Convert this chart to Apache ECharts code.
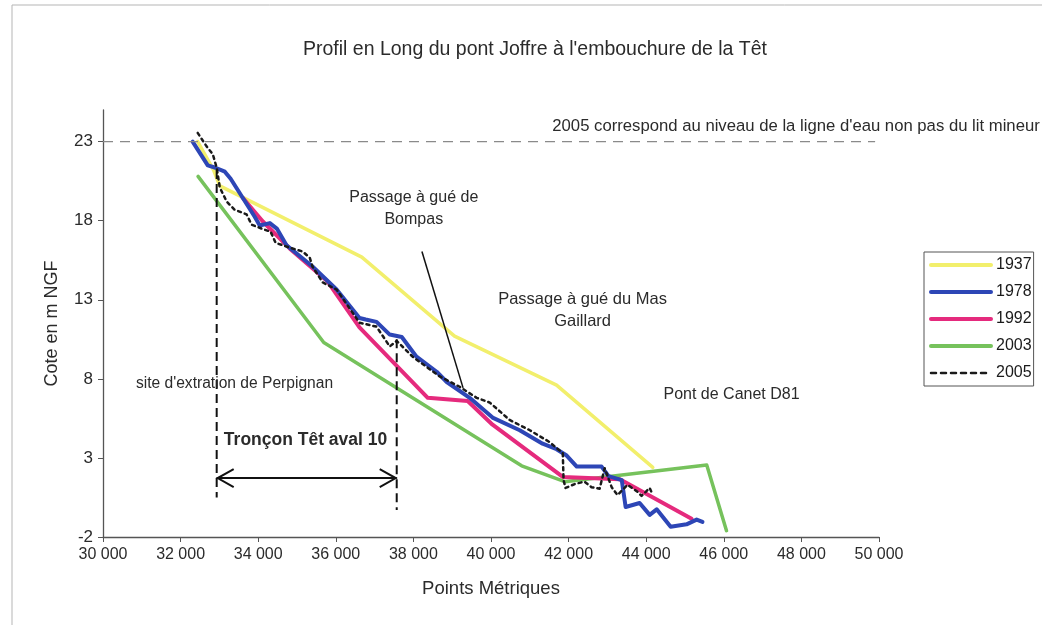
<!DOCTYPE html>
<html>
<head>
<meta charset="utf-8">
<script src="https://cdn.jsdelivr.net/npm/echarts@6/dist/echarts.min.js"></script>
<style>
  html, body { margin: 0; padding: 0; background: #ffffff; }
  #chart { width: 1042px; height: 625px; }
</style>
</head>
<body>
<div id="chart"></div>
<script>
// Axis ticks
const xTicks = [30000, 32000, 34000, 36000, 38000, 40000, 42000, 44000, 46000, 48000, 50000];
const yTicks = [-2, 3, 8, 13, 18, 23];

// Longitudinal profiles: points métriques (m) and cote (m NGF)
const pm1937 = [32440, 32850, 33010, 36670, 39060, 41690, 44170];
const cote1937 = [23.0, 21.2, 20.2, 15.7, 10.7, 7.6, 2.4];

const pm1978 = [32310, 32700, 32900, 33140, 33290, 33600, 33910, 34040, 34300, 34480, 34730, 35400, 36020,
  36610, 36770, 37050, 37390, 37700, 38080, 38600, 38860, 39450, 40040, 40740, 41330, 41690, 41950, 42210,
  42850, 43030, 43370, 43470, 43830, 44090, 44270, 44630, 45040, 45300, 45450];
const cote1978 = [23.0, 21.5, 21.35, 21.1, 20.65, 19.45, 18.25, 17.7, 17.85, 17.5, 16.45, 15.1, 13.65,
  11.85, 11.75, 11.6, 10.8, 10.65, 9.4, 8.45, 7.8, 6.8, 5.55, 4.75, 3.9, 3.55, 3.15, 2.45,
  2.45, 1.85, 1.6, -0.1, 0.15, -0.6, -0.25, -1.35, -1.2, -0.9, -1.05];

const pm1992 = [33600, 34120, 34810, 35790, 36610, 38370, 39400, 40040, 41850, 43320, 45170];
const cote1992 = [19.45, 17.95, 16.25, 14.15, 11.25, 6.8, 6.6, 5.1, 1.8, 1.65, -0.85];

const pm2003 = [32450, 35690, 40790, 41900, 45560, 46070];
const cote2003 = [20.8, 10.3, 2.5, 1.5, 2.55, -1.6];

const pm2005 = [32440, 32670, 32830, 32930, 33010, 33190, 33390, 33700, 33830, 34090, 34320, 34450, 34810,
  35150, 35330, 35400, 35660, 36020, 36610, 37050, 37390, 37570, 37980, 38680, 39190, 39630, 39970, 40480,
  41000, 41510, 41850, 41870, 41920, 42160, 42410, 42590, 42800, 42930, 43110, 43260, 43520, 43780, 43880,
  44090, 44170];
const cote2005 = [23.55, 22.7, 22.2, 21.35, 20.1, 19.2, 18.7, 18.4, 17.75, 17.5, 17.3, 16.6, 16.3,
  16.05, 15.65, 15.1, 14.1, 13.65, 11.55, 11.3, 10.05, 10.4, 9.4, 8.15, 7.5, 6.8, 6.5, 5.4,
  4.75, 4.0, 3.3, 1.6, 1.1, 1.35, 1.5, 1.15, 1.05, 2.35, 1.15, 0.65, 1.3, 0.85, 0.6,
  1.1, 0.65];

// Reference lines drawn in data space
const waterRefLevel = [[30000, 23], [49900, 23]];
const tronconStart = [[32930, 21.2], [32930, 0.5]];
const tronconEnd = [[37570, 10.5], [37570, -0.3]];
const tronconSpan = [[32930, 1.73], [37570, 1.73]];
const bompasPointer = [[38220, 16.05], [39280, 7.43]];

// Text notes, anchored in data space
const notes = [
  { text: "2005 correspond au niveau de la ligne d'eau non pas du lit mineur", at: [41580, 23.95], align: 'left', size: 16.7 },
  { text: 'Passage à gué de\nBompas', at: [38010, 18.76], align: 'center', size: 16 },
  { text: 'Passage à gué du Mas\nGaillard', at: [42360, 12.3], align: 'center', size: 16.5 },
  { text: 'Pont de Canet D81', at: [46200, 6.99], align: 'center', size: 16 },
  { text: "site d'extration de Perpignan", at: [33390, 7.68], align: 'center', size: 15.6 },
  { text: 'Tronçon Têt aval 10', at: [35220, 4.14], align: 'center', size: 17.5, bold: true }
];

const FONT = '"Liberation Sans", Arial, sans-serif';
const zip = (xs, ys) => xs.map((x, i) => [x, ys[i]]);
const fmtThousands = v => String(v).replace(/\B(?=(\d{3})+(?!\d))/g, ' ');

const profiles = [
  { name: '1937', data: zip(pm1937, cote1937), color: '#f2ef6c', width: 3.5, z: 2 },
  { name: '1978', data: zip(pm1978, cote1978), color: '#2d46b6', width: 4, z: 5 },
  { name: '1992', data: zip(pm1992, cote1992), color: '#e52a7d', width: 4, z: 4 },
  { name: '2003', data: zip(pm2003, cote2003), color: '#76c25c', width: 3.5, z: 3 },
  { name: '2005', data: zip(pm2005, cote2005), color: '#1a1a1a', width: 2.5, z: 6, dash: [3, 4] }
];

function guide(name, data, color, width, dash) {
  return {
    name: name, type: 'line', data: data, silent: true, showSymbol: false, symbol: 'none',
    z: 7, animation: false,
    lineStyle: { color: color, width: width, type: dash || 'solid' }
  };
}

const chart = echarts.init(document.getElementById('chart'));

chart.setOption({
  animation: false,
  backgroundColor: '#ffffff',
  title: {
    text: "Profil en Long du pont Joffre à l'embouchure de la Têt",
    left: 530, top: 35, textAlign: 'center',
    textStyle: { fontFamily: FONT, fontSize: 19.5, fontWeight: 'normal', color: '#2b2b2b' }
  },
  grid: { left: 103, right: 163, top: 110, bottom: 88, containLabel: false },
  legend: {
    orient: 'vertical', left: 924, top: 252,
    data: profiles.map(p => ({
      name: p.name,
      lineStyle: { width: p.dash ? 2.5 : 4, type: p.dash ? [5, 5] : 'solid' }
    })),
    itemWidth: 60, itemHeight: 16, itemGap: 11,
    padding: [5, 2, 5, 5],
    borderColor: '#555', borderWidth: 1,
    itemStyle: { opacity: 0 },
    textStyle: { fontFamily: FONT, fontSize: 16, color: '#1a1a1a' }
  },
  xAxis: {
    type: 'value', min: 30000, max: 50000, interval: 2000,
    name: 'Points Métriques', nameLocation: 'middle', nameGap: 42,
    nameTextStyle: { fontFamily: FONT, fontSize: 18.5, color: '#2b2b2b' },
    axisLine: { show: true, onZero: false, lineStyle: { color: '#555', width: 1.3 } },
    axisTick: { show: true, length: 5, lineStyle: { color: '#555' } },
    axisLabel: {
      margin: 10, fontFamily: FONT, fontSize: 16, color: '#2b2b2b',
      formatter: v => fmtThousands(v)
    },
    splitLine: { show: false }
  },
  yAxis: {
    type: 'value', min: -2, max: 25, interval: 5,
    name: 'Cote en m NGF', nameLocation: 'middle', nameGap: 42, nameRotate: 90,
    nameTextStyle: { fontFamily: FONT, fontSize: 18, color: '#2b2b2b' },
    axisLine: { show: true, onZero: false, lineStyle: { color: '#555', width: 1.3 } },
    axisTick: { show: true, length: 5, customValues: yTicks, lineStyle: { color: '#555' } },
    axisLabel: {
      margin: 10, fontFamily: FONT, fontSize: 17, color: '#2b2b2b',
      customValues: yTicks
    },
    splitLine: { show: false }
  },
  series: profiles.map(p => ({
    name: p.name, type: 'line', data: p.data, showSymbol: false, symbol: 'none', z: p.z,
    itemStyle: { color: p.color },
    lineStyle: { color: p.color, width: p.width, type: p.dash || 'solid', join: 'round', cap: 'round' }
  })).concat([
    guide('ligne23', waterRefLevel, '#8a8a8a', 1.3, [10, 7]),
    guide('borneA', tronconStart, '#111', 2, [9, 5]),
    guide('borneB', tronconEnd, '#111', 2, [9, 5]),
    guide('troncon', tronconSpan, '#111', 2),
    guide('renvoi', bompasPointer, '#111', 1.5)
  ])
});

// Notes, arrowheads and the scan frame, positioned through the grid's coordinate system
function px(pt) { return chart.convertToPixel({ gridIndex: 0 }, pt); }

const graphics = [];
graphics.push({
  type: 'polyline', silent: true, z: 0,
  shape: { points: [[12, 625], [12, 5], [1042, 5]] },
  style: { stroke: '#b5b5b5', lineWidth: 1, fill: null }
});

notes.forEach(n => {
  const p = px(n.at);
  graphics.push({
    type: 'text', silent: true, z: 10,
    x: p[0], y: p[1],
    style: {
      text: n.text, fill: '#2b2b2b',
      font: (n.bold ? 'bold ' : '') + n.size + 'px ' + FONT,
      align: n.align, textAlign: n.align,
      verticalAlign: 'middle', textVerticalAlign: 'middle',
      lineHeight: 22
    }
  });
});

const left = px(tronconSpan[0]);
const right = px(tronconSpan[1]);
graphics.push({
  type: 'polyline', silent: true, z: 10,
  shape: { points: [[left[0] + 17, left[1] - 9], [left[0] + 1, left[1]], [left[0] + 17, left[1] + 9]] },
  style: { stroke: '#111', lineWidth: 2, fill: null }
});
graphics.push({
  type: 'polyline', silent: true, z: 10,
  shape: { points: [[right[0] - 17, right[1] - 9], [right[0] - 1, right[1]], [right[0] - 17, right[1] + 9]] },
  style: { stroke: '#111', lineWidth: 2, fill: null }
});

chart.setOption({ graphic: graphics });
</script>
</body>
</html>
